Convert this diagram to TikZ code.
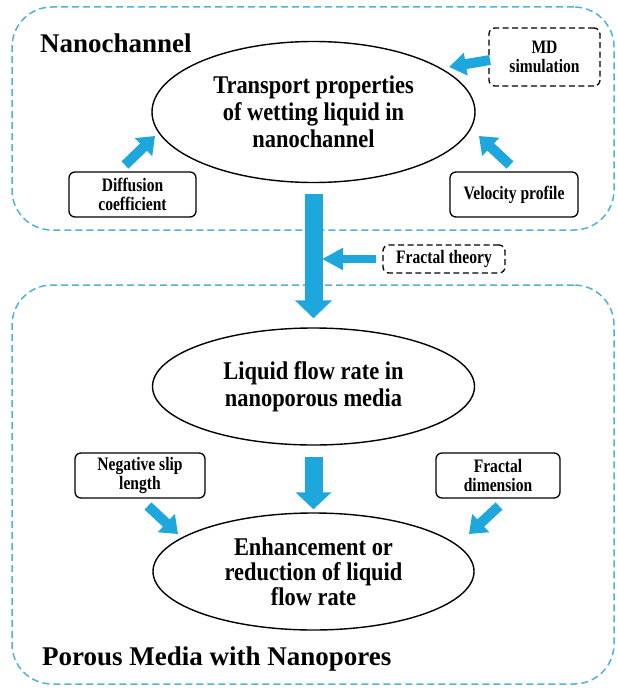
\documentclass[tikz,border=0pt]{standalone}
\usepackage{fontspec}
\setmainfont{Liberation Serif}
\newfontfamily\ellfont[FakeStretch=0.88]{Liberation Serif}
\newfontfamily\smallboxfont[FakeStretch=0.82]{Liberation Serif}
\usetikzlibrary{shapes.geometric,arrows.meta}
\definecolor{arrowblue}{RGB}{29,167,221}
\definecolor{regionblue}{RGB}{80,178,212}
\tikzset{
  region/.style={draw=regionblue, line width=1.5pt, dash pattern=on 7pt off 4pt, rounded corners=40pt},
  heading/.style={font=\fontsize{27}{30}\selectfont\bfseries, inner sep=0pt},
  ell/.style={ellipse, draw=black, line width=1.4pt, inner sep=0pt, align=center,
     font=\ellfont\fontsize{25.5}{27}\selectfont\bfseries},
  infobox/.style={draw=black, line width=1.3pt, rounded corners=6pt, align=center, inner sep=0pt,
     font=\smallboxfont\fontsize{19}{19}\selectfont\bfseries},
  dashbox/.style={infobox, dash pattern=on 6pt off 3.5pt},
  blk/.style n args={3}{draw=arrowblue, line width=#1, -{Triangle[width=#2,length=#3]}},
}
\begin{document}
\begin{tikzpicture}[x=1pt,y=-1pt]
\useasboundingbox (0,0) rectangle (617,690);
% regions
\node[region, minimum width=602pt, minimum height=223pt] (nanoreg) at (313,118.5) {};
\node[region, minimum width=602pt, minimum height=399pt] (porreg) at (313,484.5) {};
\node[heading, anchor=base west] (h1) at (40,53) {Nanochannel};
\node[heading, anchor=base west] (h2) at (42,665) {Porous Media with Nanopores};
% ellipses
\node[ell, minimum width=323pt, minimum height=141pt] (tp) at (313.5,112)
  {Transport properties\\of wetting liquid in\\nanochannel};
\node[ell, minimum width=322pt, minimum height=117pt] (lf) at (313.5,386.5)
  {Liquid flow rate in\\nanoporous media};
\node[ell, minimum width=321pt, minimum height=117pt, font=\ellfont\fontsize{25.5}{25}\selectfont\bfseries] (en) at (313.5,571.5)
  {Enhancement or\\reduction of liquid\\flow rate};
% boxes
\node[dashbox, minimum width=111pt, minimum height=58pt] (md) at (544.5,57) {MD\\simulation};
\node[infobox, minimum width=127pt, minimum height=45pt] (dc) at (132.5,194.5) {Diffusion\\coefficient};
\node[infobox, minimum width=128pt, minimum height=45pt] (vp) at (514,194.5) {Velocity profile};
\node[dashbox, minimum width=122pt, minimum height=28pt] (ft) at (444,259) {Fractal theory};
\node[infobox, minimum width=130pt, minimum height=45pt] (ns) at (140,475.5) {Negative slip\\length};
\node[infobox, minimum width=124pt, minimum height=45pt] (fd) at (498,475.5) {Fractal\\dimension};
% arrow end points
\coordinate (mdt) at (490,60);
\coordinate (mdh) at (449,67);
\coordinate (dct) at (125,165);
\coordinate (dch) at (155,136);
\coordinate (vpt) at (510,165);
\coordinate (vph) at (479,136);
\coordinate (nst) at (148,506);
\coordinate (nsh) at (178,534);
\coordinate (fdt) at (499,506);
\coordinate (fdh) at (469,534);
\coordinate (fth) at (322,259);
% arrows
\draw[blk={18pt}{36pt}{18pt}, shorten <=10.5pt, shorten >=9pt] (tp.south) -- (lf.north);
\draw[blk={18pt}{35pt}{17pt}, shorten <=11pt, shorten >=3pt] (lf.south) -- (en.north);
\draw[blk={8pt}{21pt}{21pt}, shorten <=6pt] (ft.west) -- (fth);
\draw[blk={10pt}{22pt}{17pt}] (mdt) -- (mdh);
\draw[blk={10pt}{24pt}{16pt}] (dct) -- (dch);
\draw[blk={10pt}{24pt}{16pt}] (vpt) -- (vph);
\draw[blk={10pt}{24pt}{16pt}] (nst) -- (nsh);
\draw[blk={10pt}{24pt}{16pt}] (fdt) -- (fdh);
\end{tikzpicture}
\end{document}
